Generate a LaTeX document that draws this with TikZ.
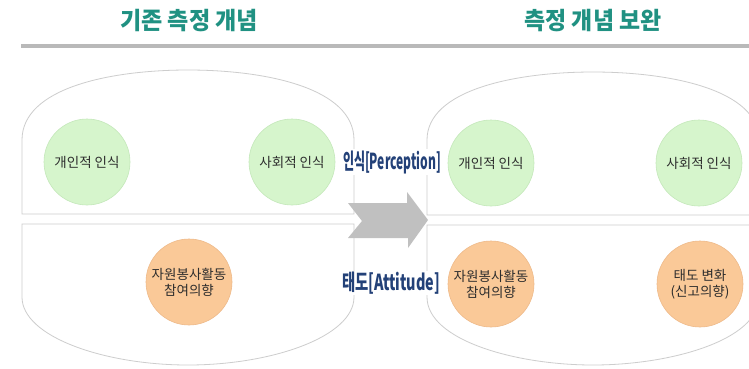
\documentclass[tikz,border=0pt]{standalone}
\usepackage{fontspec}
\usepackage{graphicx}
\newfontfamily\krfont{Noto Sans CJK KR}
\definecolor{titleteal}{RGB}{32,145,130}
\definecolor{navy}{RGB}{35,65,120}
\definecolor{linegray}{RGB}{205,205,205}
\definecolor{rulegray}{RGB}{185,185,185}
\definecolor{arrowgray}{RGB}{192,192,192}
\definecolor{greenfill}{RGB}{214,245,204}
\definecolor{greenborder}{RGB}{196,232,186}
\definecolor{orangefill}{RGB}{250,201,152}
\definecolor{orangeborder}{RGB}{238,186,138}
\definecolor{txtgray}{RGB}{45,45,45}
\tikzset{
  container/.style={draw=linegray, line width=0.8pt},
  bubble/.style={circle, minimum size=86pt, inner sep=0pt, align=center,
    font=\krfont\fontsize{13.5}{16}\selectfont, text=txtgray, line width=0.6pt},
  greenc/.style={bubble, draw=greenborder, fill=greenfill},
  orangec/.style={bubble, draw=orangeborder, fill=orangefill},
  titletext/.style={font=\krfont\bfseries\fontsize{24}{28}\selectfont, text=titleteal, inner sep=0pt},
  concept/.style={font=\krfont\bfseries\fontsize{22}{24}\selectfont, text=navy, fill=white, inner sep=1pt}
}
\begin{document}
\begin{tikzpicture}[x=1pt,y=-1pt]
\clip (0,0) rectangle (749,368);
\fill[white] (0,0) rectangle (749,368);
% titles
\node[titletext] (t1) at (189,21) {\resizebox{138pt}{\height}{기존 측정 개념}};
\node[titletext] (t2) at (593,21) {\resizebox{137pt}{\height}{측정 개념 보완}};
\draw[rulegray, line width=4pt] (21,45.5) -- (749,45.5);
% containers left
\draw[container] (22,214) -- (22,140) .. controls (22,88) and (110,70) .. (188,70)
  .. controls (266,70) and (354,88) .. (354,140) -- (354,214) -- cycle;
\draw[container] (22,224) -- (22,297) .. controls (22,337) and (105,365) .. (188,365)
  .. controls (271,365) and (354,337) .. (354,297) -- (354,224) -- cycle;
% containers right
\draw[container] (427,215) -- (427,140) .. controls (427,90) and (515,72) .. (593,72)
  .. controls (671,72) and (759,90) .. (759,140) -- (759,215) -- cycle;
\draw[container] (427,225) -- (427,297) .. controls (427,340) and (515,365) .. (593,365)
  .. controls (671,365) and (759,340) .. (759,297) -- (759,225) -- cycle;
% arrow
\fill[arrowgray] (348,203) -- (407,203) -- (407,192) -- (428,220) -- (408,248)
  -- (408,238) -- (348,238) -- (362,221) -- cycle;
% circles
\node[greenc] (pl) at (87,162) {개인적 인식};
\node[greenc] (sl) at (292,162) {사회적 인식};
\node[orangec] (vl) at (189,282) {자원봉사활동\\참여의향};
\node[greenc] (pr) at (491,163) {개인적 인식};
\node[greenc] (sr) at (699,163) {사회적 인식};
\node[orangec] (vr) at (491,284) {자원봉사활동\\참여의향};
\node[orangec] (ar) at (700,284) {태도 변화\\(신고의향)};
% concept labels
\node[concept] (perc) at (392,162) {\resizebox{98pt}{\height}{인식[Perception]}};
\node[concept] (att) at (391,283) {\resizebox{98pt}{\height}{태도[Attitude]}};
\end{tikzpicture}
\end{document}
